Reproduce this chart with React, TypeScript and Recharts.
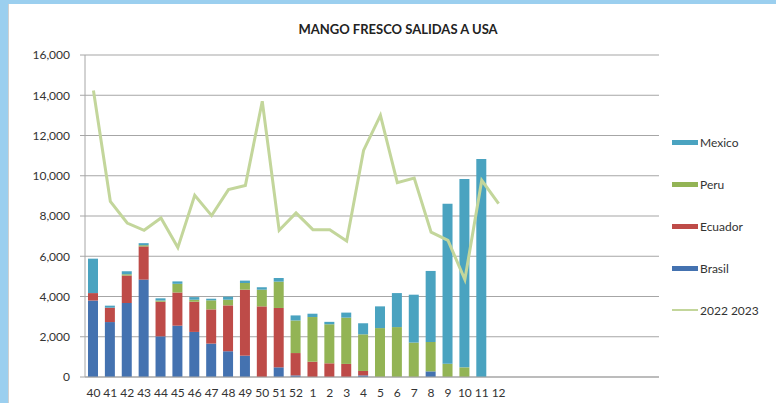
import { Bar, CartesianGrid, ComposedChart, Legend, Line, XAxis, YAxis } from 'recharts'

const WEEKS = [
  '40', '41', '42', '43', '44', '45', '46', '47', '48', '49', '50', '51', '52',
  '1', '2', '3', '4', '5', '6', '7', '8', '9', '10', '11', '12',
  '', '', '', '', '', '', '', '', '',
]

const BRASIL = [3800, 2730, 3680, 4840, 2020, 2550, 2240, 1660, 1280, 1060, 0, 480, 80, 0, 0, 0, 80, 0, 0, 0, 280, 0, 0, 0, 0]
const ECUADOR = [370, 715, 1360, 1650, 1720, 1650, 1500, 1700, 2280, 3280, 3510, 2950, 1110, 760, 680, 650, 220, 0, 0, 0, 0, 0, 0, 0, 0]
const PERU = [0, 0, 70, 60, 60, 430, 100, 450, 280, 330, 830, 1310, 1620, 2220, 1940, 2300, 1820, 2430, 2480, 1710, 1460, 660, 480, 0, 0]
const MEXICO = [1710, 100, 150, 100, 110, 120, 130, 80, 150, 120, 120, 180, 250, 165, 120, 250, 550, 1080, 1690, 2380, 3530, 7950, 9360, 10830, 0]
const TOTAL_2022_2023 = [14240, 8730, 7650, 7290, 7900, 6430, 9030, 8020, 9310, 9520, 13700, 7290, 8150, 7320, 7320, 6760, 11260, 13000, 9660, 9890, 7200, 6790, 4840, 9770, 8610]

const Y_TICKS = [0, 2000, 4000, 6000, 8000, 10000, 12000, 14000, 16000]

const COLORS = {
  mexico: '#4aa3c0',
  peru: '#93b455',
  ecuador: '#be4b48',
  brasil: '#4472b0',
  line: '#c3d69b',
}

const FONT = "'Liberation Sans Narrow', Lato, sans-serif"

const data = WEEKS.map((week, i) => ({
  week,
  brasil: BRASIL[i] ?? null,
  ecuador: ECUADOR[i] ?? null,
  peru: PERU[i] ?? null,
  mexico: MEXICO[i] ?? null,
  total: TOTAL_2022_2023[i] ?? null,
}))

const LEGEND_ITEMS = [
  { label: 'Mexico', color: COLORS.mexico, line: false },
  { label: 'Peru', color: COLORS.peru, line: false },
  { label: 'Ecuador', color: COLORS.ecuador, line: false },
  { label: 'Brasil', color: COLORS.brasil, line: false },
  { label: '2022 2023', color: COLORS.line, line: true },
]

function SideLegend() {
  return (
    <div style={{ fontFamily: FONT, fontSize: 12, color: '#333' }}>
      {LEGEND_ITEMS.map((item) => (
        <div key={item.label} style={{ display: 'flex', alignItems: 'center', height: 42 }}>
          <span
            style={{
              display: 'inline-block',
              width: 26,
              height: item.line ? 2 : 5,
              background: item.color,
              marginLeft: 13,
              marginRight: 2,
            }}
          />
          <span>{item.label}</span>
        </div>
      ))}
    </div>
  )
}

export default function App() {
  return (
    <div style={{ position: 'absolute', left: 0, top: 0, width: 776, height: 403, background: '#fff', overflow: 'hidden' }}>
      <div style={{ position: 'absolute', left: 0, top: 0, width: 776, height: 4, background: '#9bcfef' }} />
      <div style={{ position: 'absolute', left: 0, top: 0, width: 8, height: 403, background: '#9bcfef' }} />
      <div style={{ position: 'absolute', left: 8, top: 4, width: 1, height: 399, background: '#d0d0d0' }} />
      <div
        style={{
          position: 'absolute',
          top: 21,
          left: 0,
          width: 796,
          textAlign: 'center',
          fontFamily: FONT,
          fontWeight: 'bold',
          fontSize: 13,
          color: '#222',
        }}
      >
        MANGO FRESCO SALIDAS A USA
      </div>
      <ComposedChart
        width={776}
        height={403}
        data={data}
        margin={{ top: 55, right: 17, left: 25, bottom: 0 }}
        style={{ position: 'absolute', left: 0, top: 0 }}
      >
        <CartesianGrid vertical={false} stroke="#a6a6a6" strokeWidth={1.2} />
        <XAxis
          dataKey="week"
          interval={0}
          tickLine={false}
          tickMargin={5}
          height={26}
          axisLine={{ stroke: '#a6a6a6' }}
          tick={{ fill: '#333', fontSize: 12, fontFamily: FONT }}
        />
        <YAxis
          width={60}
          domain={[0, 16000]}
          ticks={Y_TICKS}
          tickFormatter={(v: number) => v.toLocaleString('en-US')}
          tickSize={5}
          tickMargin={10}
          tickLine={{ stroke: '#a6a6a6' }}
          axisLine={{ stroke: '#a6a6a6' }}
          tick={{ fill: '#333', fontSize: 12, fontFamily: FONT }}
        />
        <Legend
          layout="vertical"
          align="right"
          verticalAlign="top"
          width={100}
          content={() => <SideLegend />}
          wrapperStyle={{ top: 121 }}
        />
        <Bar dataKey="brasil" name="Brasil" stackId="s" fill={COLORS.brasil} barSize={10} isAnimationActive={false} />
        <Bar dataKey="ecuador" name="Ecuador" stackId="s" fill={COLORS.ecuador} barSize={10} isAnimationActive={false} />
        <Bar dataKey="peru" name="Peru" stackId="s" fill={COLORS.peru} barSize={10} isAnimationActive={false} />
        <Bar dataKey="mexico" name="Mexico" stackId="s" fill={COLORS.mexico} barSize={10} isAnimationActive={false} />
        <Line
          dataKey="total"
          name="2022 2023"
          type="linear"
          stroke={COLORS.line}
          strokeWidth={3}
          dot={false}
          connectNulls={false}
          isAnimationActive={false}
        />
      </ComposedChart>
    </div>
  )
}
